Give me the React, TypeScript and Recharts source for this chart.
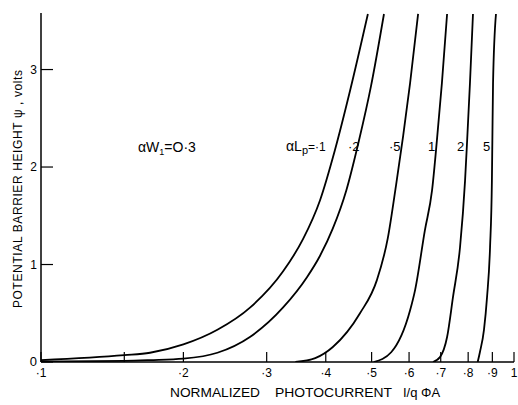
import { LineChart, Line, XAxis, YAxis, Customized } from 'recharts';

// tick positions and their printed labels
const xTicks = [0.1, 0.15, 0.2, 0.3, 0.4, 0.5, 0.6, 0.7, 0.8, 0.9, 1];
const xTickLabels = ['·1', '', '·2', '·3', '·4', '·5', '·6', '·7', '·8', '·9', '1'];
const yTicks = [0, 1, 2, 3];

// potential barrier height vs normalized photocurrent, one array per αLp
const curveLp01 = [
    { x: 0.1, y: 0.02 }, { x: 0.15, y: 0.07 }, { x: 0.17, y: 0.095 }, { x: 0.2, y: 0.18 },
    { x: 0.236, y: 0.33 }, { x: 0.277, y: 0.56 }, { x: 0.325, y: 0.93 }, { x: 0.358, y: 1.26 },
    { x: 0.389, y: 1.66 }, { x: 0.418, y: 2.17 }, { x: 0.45, y: 2.78 }, { x: 0.491, y: 3.57 },
];
const curveLp02 = [
    { x: 0.1, y: 0.005 }, { x: 0.15, y: 0.012 }, { x: 0.17, y: 0.02 }, { x: 0.2, y: 0.035 },
    { x: 0.236, y: 0.095 }, { x: 0.277, y: 0.26 }, { x: 0.325, y: 0.56 }, { x: 0.365, y: 0.87 },
    { x: 0.389, y: 1.09 }, { x: 0.414, y: 1.37 }, { x: 0.442, y: 1.76 }, { x: 0.47, y: 2.27 },
    { x: 0.4985, y: 2.83 }, { x: 0.531, y: 3.57 },
];
const curveLp05 = [
    { x: 0.345, y: 0 }, { x: 0.38, y: 0.04 }, { x: 0.414, y: 0.154 }, { x: 0.4725, y: 0.5 },
    { x: 0.513, y: 0.84 }, { x: 0.541, y: 1.27 }, { x: 0.563, y: 1.81 }, { x: 0.583, y: 2.32 },
    { x: 0.603, y: 2.86 }, { x: 0.627, y: 3.57 },
];
const curveLp1 = [
    { x: 0.505, y: 0 }, { x: 0.55, y: 0.1 }, { x: 0.603, y: 0.53 }, { x: 0.618, y: 0.74 },
    { x: 0.648, y: 1.35 }, { x: 0.671, y: 1.76 }, { x: 0.687, y: 2.27 }, { x: 0.704, y: 2.86 },
    { x: 0.722, y: 3.57 },
];
const curveLp2 = [
    { x: 0.674, y: 0 }, { x: 0.6975, y: 0.05 }, { x: 0.722, y: 0.256 }, { x: 0.743, y: 0.665 },
    { x: 0.769, y: 1.18 }, { x: 0.788, y: 1.86 }, { x: 0.796, y: 2.27 }, { x: 0.807, y: 2.86 },
    { x: 0.819, y: 3.57 },
];
const curveLp5 = [
    { x: 0.838, y: 0 }, { x: 0.847, y: 0.1 }, { x: 0.864, y: 0.33 }, { x: 0.877, y: 0.665 },
    { x: 0.89, y: 1.18 }, { x: 0.898, y: 1.86 }, { x: 0.9, y: 2.27 }, { x: 0.903, y: 2.86 },
    { x: 0.916, y: 3.57 },
];

const curves = [curveLp01, curveLp02, curveLp05, curveLp1, curveLp2, curveLp5];

const font = '"Liberation Sans", Arial, sans-serif';

const XTick = (props: any) => {
    const { x, y, payload } = props;
    const label = xTickLabels[xTicks.indexOf(payload.value)];
    return (
        <g>
            <line x1={x} y1={y} x2={x} y2={y - 10} stroke="#000" strokeWidth={1.2} />
            {label ? (
                <text x={x} y={y + 15} textAnchor="middle" fontSize={12} fontFamily={font} fill="#000">
                    {label}
                </text>
            ) : null}
        </g>
    );
};

const YTick = (props: any) => {
    const { x, y, payload } = props;
    return (
        <g>
            <line x1={x} y1={y} x2={x + 12} y2={y} stroke="#000" strokeWidth={1.2} />
            <text x={x - 4} y={y + 4} textAnchor="end" fontSize={payload.value === 0 ? 13 : 12} fontFamily={font} fill="#000">
                {payload.value}
            </text>
        </g>
    );
};

// axis titles and curve labels
const Annotations = () => (
    <g fontFamily={font} fill="#000">
        <text
            transform="translate(22,189) rotate(-90)"
            textAnchor="middle"
            fontSize={12}
            textLength={238}
            lengthAdjust="spacing"
        >
            POTENTIAL  BARRIER  HEIGHT  ψ , volts
        </text>
        <text x={170} y={397} fontSize={13} textLength={90} lengthAdjust="spacingAndGlyphs">NORMALIZED</text>
        <text x={275} y={397} fontSize={13} textLength={117} lengthAdjust="spacingAndGlyphs">PHOTOCURRENT</text>
        <text x={403} y={397} fontSize={13}>I/q ΦA</text>
        <text x={138} y={152} fontSize={14}>
            αW<tspan dy={3} fontSize={9}>1</tspan>
            <tspan dy={-3}>=O·3</tspan>
        </text>
        <text x={286} y={151} fontSize={14}>
            αL<tspan dy={3} fontSize={11}>p</tspan>
            <tspan dy={-3} fontSize={12}>=·1</tspan>
        </text>
        <text x={348} y={151} fontSize={13}>·2</text>
        <text x={389} y={151} fontSize={13}>·5</text>
        <text x={428} y={151} fontSize={13}>1</text>
        <text x={457} y={151} fontSize={13}>2</text>
        <text x={483} y={151} fontSize={13}>5</text>
    </g>
);

export default function App() {
    return (
        <div style={{ position: 'absolute', left: 0, top: 0, background: '#fff' }}>
            <LineChart width={518} height={405} margin={{ top: 13, right: 4, bottom: 0, left: 0 }}>
                <XAxis
                    type="number"
                    dataKey="x"
                    scale="log"
                    domain={[0.1, 1]}
                    ticks={xTicks}
                    interval={0}
                    allowDataOverflow
                    height={43}
                    tickSize={0}
                    tickMargin={0}
                    tick={<XTick />}
                    axisLine={{ stroke: '#000', strokeWidth: 1.5 }}
                />
                <YAxis
                    type="number"
                    dataKey="y"
                    domain={[0, 3.58]}
                    ticks={yTicks}
                    interval={0}
                    allowDataOverflow
                    width={41}
                    tickSize={0}
                    tickMargin={0}
                    tick={<YTick />}
                    axisLine={{ stroke: '#000', strokeWidth: 1.5 }}
                />
                {curves.map((c, i) => (
                    <Line
                        key={i}
                        data={c}
                        dataKey="y"
                        type="monotone"
                        stroke="#000"
                        strokeWidth={1.8}
                        dot={false}
                        isAnimationActive={false}
                    />
                ))}
                <Customized component={Annotations} />
            </LineChart>
        </div>
    );
}
